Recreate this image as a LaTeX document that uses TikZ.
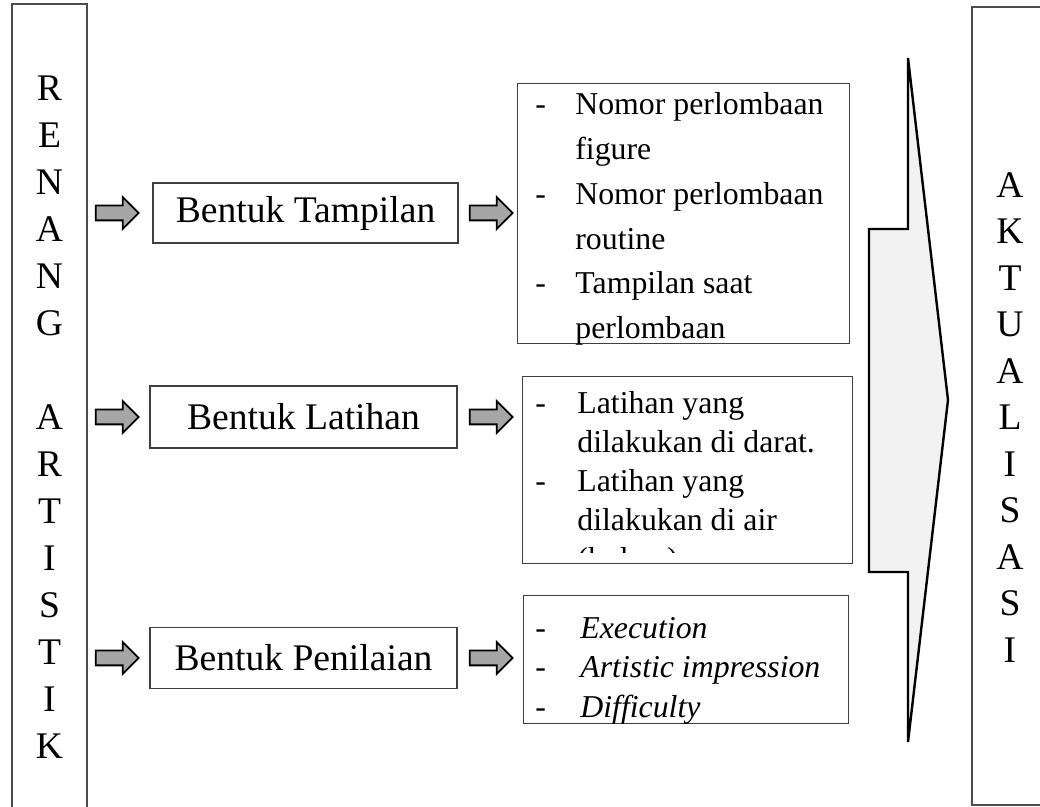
\documentclass[tikz,border=0pt]{standalone}
\usepackage{fontspec}
\setmainfont{Liberation Serif}
\usetikzlibrary{shapes.arrows}

\tikzset{
  kolom/.style={draw=black!70, line width=0.6pt},
  kotak/.style={draw=black!75, line width=0.6pt, font=\fontsize{18.8}{22}\selectfont},
  daftar/.style={draw=black!75, line width=0.6pt, anchor=north west, inner sep=0pt},
  isi/.style={anchor=north west, inner sep=0pt},
  panah/.style={single arrow, draw=black, line width=0.9pt, fill=black!35, minimum height=21.5pt, minimum width=15pt, single arrow head extend=4.25pt, inner sep=3.25pt},
}

\begin{document}
\begin{tikzpicture}[x=0.5pt, y=-0.5pt]
    \clip (0,0) rectangle (1040,807);
    % Kolom kiri dan kanan
    \draw[kolom] (12,4) rectangle (87,830);
    \draw[kolom] (972,7) rectangle (1060,805);
    \node[align=center, inner sep=0pt, font=\fontsize{18.8}{23.5}\selectfont] (renang) at (49.5,417)
        {R\\E\\N\\A\\N\\G\\\mbox{}\\A\\R\\T\\I\\S\\T\\I\\K};
    \node[align=center, inner sep=0pt, font=\fontsize{18.8}{23.25}\selectfont] (aktualisasi) at (1010,417.5)
        {A\\K\\T\\U\\A\\L\\I\\S\\A\\S\\I};
    % Tiga bentuk
    \node[kotak, minimum width=152.5pt, minimum height=30pt] (tampilan) at (305.5,213) {Bentuk Tampilan};
    \node[kotak, minimum width=153.5pt, minimum height=31pt] (latihan) at (303.5,417) {Bentuk Latihan};
    \node[kotak, minimum width=153.5pt, minimum height=30.5pt] (penilaian) at (303.5,658) {Bentuk Penilaian};
    % Panah kecil
    \node[panah] (pa1) at (113.5,213) {};
    \node[panah] (pa2) at (113.5,417) {};
    \node[panah] (pa3) at (113.5,658) {};
    \node[panah] (pb1) at (487.5,213) {};
    \node[panah] (pb2) at (487.5,417) {};
    \node[panah] (pb3) at (487.5,658) {};
    % Rincian
    \node[daftar, minimum width=166pt, minimum height=130pt] (nomor) at (517,83) {};
    \node[isi, font=\fontsize{15.9}{22.4}\selectfont] (nomorisi) at (535,83)
        {\begin{tabular}{@{}p{20pt}@{}l@{}}
         - & Nomor perlombaan\\
           & figure\\
         - & Nomor perlombaan\\
           & routine\\
         - & Tampilan saat\\
           & perlombaan
         \end{tabular}};
    \node[daftar, minimum width=165pt, minimum height=93.5pt] (latih) at (522,376) {};
    \begin{scope}
        \clip (522,376) rectangle (852,553);
        \node[isi, font=\fontsize{15.9}{19.5}\selectfont] (latihisi) at (535,386)
            {\begin{tabular}{@{}p{21pt}@{}l@{}}
             - & Latihan yang\\
               & dilakukan di darat.\\
             - & Latihan yang\\
               & dilakukan di air\\
               & (kolam)
             \end{tabular}};
    \end{scope}
    \node[daftar, minimum width=162.5pt, minimum height=64pt] (nilai) at (523,595) {};
    \node[isi, font=\fontsize{15.9}{19.75}\selectfont] (nilaiisi) at (535,610)
        {\begin{tabular}{@{}p{22.5pt}@{}l@{}}
         - & \textit{Execution}\\
         - & \textit{Artistic impression}\\
         - & \textit{Difficulty}
         \end{tabular}};
    % Panah besar
    \draw[line width=1.2pt, fill=black!5] (869,229) -- (908,229) -- (908,58) -- (948,400)
        -- (908,742) -- (908,572) -- (869,572) -- cycle;
\end{tikzpicture}
\end{document}
